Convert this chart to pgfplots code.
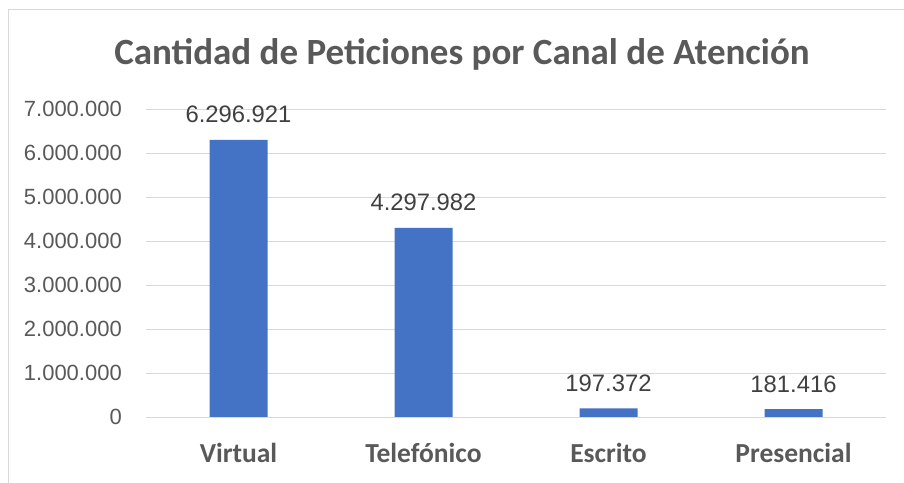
\documentclass[border=0pt]{standalone}
\usepackage{pgfplots}
\pgfplotsset{compat=1.18}
\usepackage{fontspec}
\setmainfont{Liberation Sans}
\newfontfamily\calibri{Carlito}
\definecolor{barblue}{HTML}{4472C4}
\definecolor{gridgray}{HTML}{D9D9D9}
\definecolor{txtgray}{HTML}{595959}
\definecolor{lblgray}{HTML}{404040}
\begin{document}
\begin{tikzpicture}
\path[use as bounding box] (0,0) rectangle (904bp,483bp);
\fill[white] (0,0) rectangle (904bp,483bp);
\draw[gridgray, line width=1bp] (8bp,0) -- (8bp,473bp) -- (904bp,473bp);
\node[anchor=base, text=txtgray, font=\calibri\bfseries\fontsize{37bp}{40bp}\selectfont] at (462bp,418bp) {Cantidad de Peticiones por Canal de Atención};
\begin{axis}[
  at={(146bp,66bp)}, anchor=south west,
  scale only axis, width=740bp, height=308bp,
  ybar, bar width=58bp,
  xmin=-0.5, xmax=3.5, ymin=0, ymax=7000000,
  xtick=data, xticklabels={Virtual,Telefónico,Escrito,Presencial},
  ytick={0,1000000,2000000,3000000,4000000,5000000,6000000,7000000},
  scaled y ticks=false,
  axis line style={draw=none},
  major tick length=0pt,
  ymajorgrids, grid style={gridgray, line width=1bp},
  /pgf/number format/.cd, fixed, 1000 sep={.}, assume math mode=true,
  /pgfplots/.cd,
  yticklabel style={anchor=east, inner sep=0pt, xshift=-24bp, text=txtgray, font=\fontsize{22bp}{25bp}\selectfont},
  xticklabel style={anchor=base, inner sep=0pt, yshift=-45bp, text=txtgray, font=\calibri\bfseries\fontsize{27.5bp}{30bp}\selectfont},
  nodes near coords,
  every node near coord/.append style={anchor=base, inner sep=0pt, yshift=17bp, text=lblgray, font=\fontsize{23.8bp}{26bp}\selectfont},
]
\addplot[fill=barblue, draw=none] coordinates {(0,6296921) (1,4297982) (2,197372) (3,181416)};
\end{axis}
\end{tikzpicture}
\end{document}
